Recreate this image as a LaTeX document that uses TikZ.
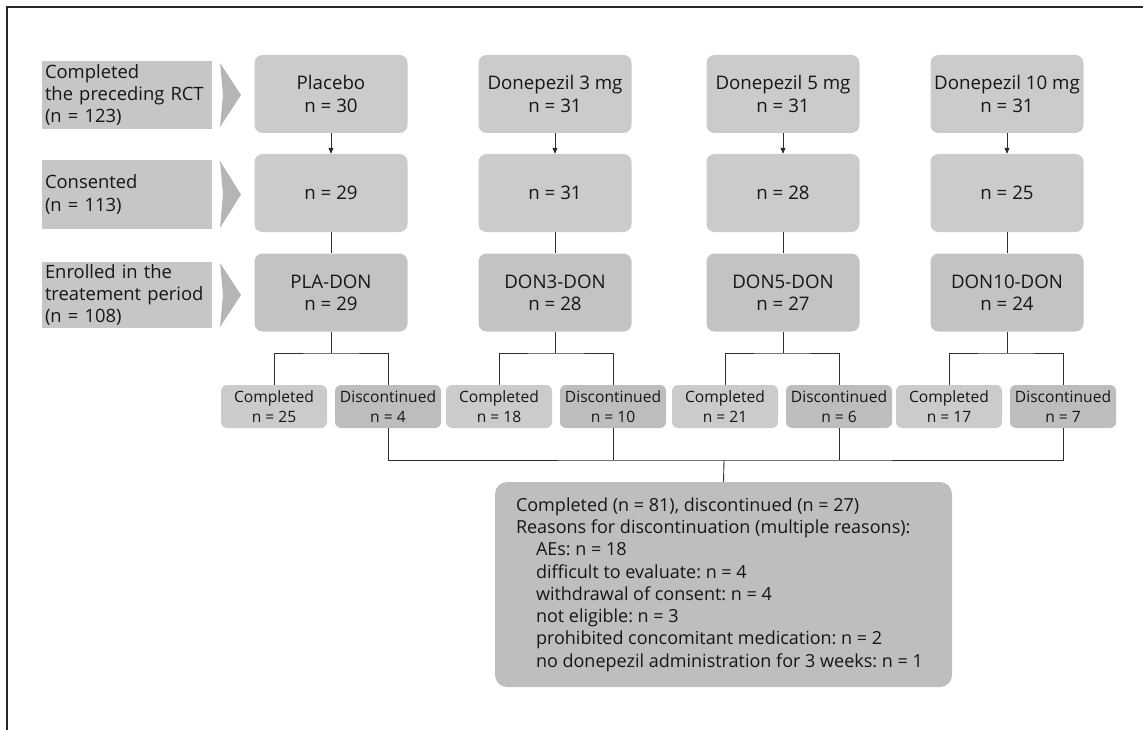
\documentclass[tikz,border=0pt]{standalone}
\usepackage{fontspec}
\setmainfont{Open Sans}
\usetikzlibrary{arrows.meta}
\definecolor{labgray}{HTML}{C6C6C6}
\definecolor{boxgray}{HTML}{CBCBCB}
\definecolor{rowthree}{HTML}{C3C3C3}
\definecolor{complgray}{HTML}{CBCBCB}
\definecolor{discgray}{HTML}{BDBDBD}
\definecolor{fingray}{HTML}{BEBEBE}
\definecolor{chevgray}{HTML}{B5B5B5}
\definecolor{txt}{HTML}{161616}
\definecolor{lncol}{HTML}{2E2E2E}
\newcommand{\mainfs}{\fontsize{18.4}{22.3}\selectfont}
\newcommand{\colfs}{\fontsize{18.7}{22.3}\selectfont}
\newcommand{\smallfs}{\fontsize{15.6}{20}\selectfont}
\newcommand{\finfs}{\fontsize{18}{22.3}\selectfont}
\frenchspacing
\begin{document}
\frenchspacing
\begin{tikzpicture}[x=1pt,y=-1pt,
  lab/.style={fill=labgray, minimum width=170pt, text width=164pt, inner xsep=3pt, inner ysep=0pt, align=left, font=\mainfs, text=txt},
  col/.style={fill=boxgray, rounded corners=8pt, minimum width=153pt, minimum height=78pt, inner sep=0pt, align=center, font=\colfs, text=txt},
  colthree/.style={col, fill=rowthree},
  compl/.style={fill=complgray, rounded corners=6pt, minimum width=106pt, minimum height=43pt, inner sep=0pt, align=center, font=\smallfs, text=txt},
  disc/.style={compl, fill=discgray},
  fin/.style={fill=fingray, rounded corners=12pt, minimum width=457pt, minimum height=205pt, inner sep=0pt},
  fintext/.style={inner sep=0pt, align=left, font=\finfs, text=txt},
  chev/.style={fill=chevgray},
  ln/.style={draw=lncol, line width=0.9pt},
  arr/.style={ln, -{Triangle[length=6pt,width=5pt]}},
  framel/.style={draw=black!85, line width=1.2pt}
]
\useasboundingbox (0,0) rectangle (1148,730);
\draw[framel] (7,730) -- (7,7) -- (1143,7);

% left labels
\node[lab, minimum height=68pt] (l1) at (127,95) {Completed\\the preceding RCT\\(n = 123)};
\node[lab, minimum height=69pt] (l2) at (127,194.5) {Consented\\(n = 113)};
\node[lab, minimum height=66pt] (l3) at (127,295) {Enrolled in the\\treatement period\\(n = 108)};
\fill[chev] (220,63) -- (241,95) -- (220,127) -- (223,95) -- cycle;
\fill[chev] (220,161) -- (241,194.5) -- (220,228) -- (223,194.5) -- cycle;
\fill[chev] (220,263) -- (241,295) -- (220,327) -- (223,295) -- cycle;

% columns
\foreach \i/\x/\a/\na/\nb/\c/\nc in {1/331/Placebo/30/29/PLA-DON/29, 2/555/Donepezil 3 mg/31/31/DON3-DON/28, 3/783/Donepezil 5 mg/31/28/DON5-DON/27, 4/1007/Donepezil 10 mg/31/25/DON10-DON/24}{
  \node[col] (a\i) at (\x,94) {\a\\n = \na};
  \node[col] (b\i) at (\x,193) {n = \nb};
  \node[colthree] (c\i) at (\x,292.5) {\c\\n = \nc};
  \draw[arr] (a\i.south) -- (b\i.north);
  \draw[ln] (b\i.south) -- (c\i.north);
}

% outcome boxes
\foreach \i/\x/\p/\q in {1/331/25/4, 2/556/18/10, 3/782/21/6, 4/1006/17/7}{
  \node[compl] (p\i) at (\x-57,406.5) {Completed\\n = \p};
  \node[disc] (d\i) at (\x+57,406.5) {Discontinued\\n = \q};
  \coordinate (j\i) at (\x,353);
  \draw[ln] (c\i.south) -- (c\i.south |- j\i);
  \draw[ln] (p\i.north) |- (j\i) -| (d\i.north);
}

% final box
\node[fin] (fin) at (723.5,584.5) {};
\node[fintext, anchor=west] (fintxt) at ([xshift=21pt]fin.west) {Completed (n = 81), discontinued (n = 27)\\
Reasons for discontinuation (multiple reasons):\\
\hspace*{20pt}AEs: n = 18\\
\hspace*{20pt}difficult to evaluate: n = 4\\
\hspace*{20pt}withdrawal of consent: n = 4\\
\hspace*{20pt}not eligible: n = 3\\
\hspace*{20pt}prohibited concomitant medication: n = 2\\
\hspace*{20pt}no donepezil administration for 3 weeks: n = 1};
\coordinate (m) at (724,460);
\draw[ln] (d1.south) |- (m) -| (d4.south);
\draw[ln] (d2.south) -- (d2.south |- m);
\draw[ln] (d3.south) -- (d3.south |- m);
\draw[ln] (m) -- (fin.north);
\end{tikzpicture}
\end{document}
